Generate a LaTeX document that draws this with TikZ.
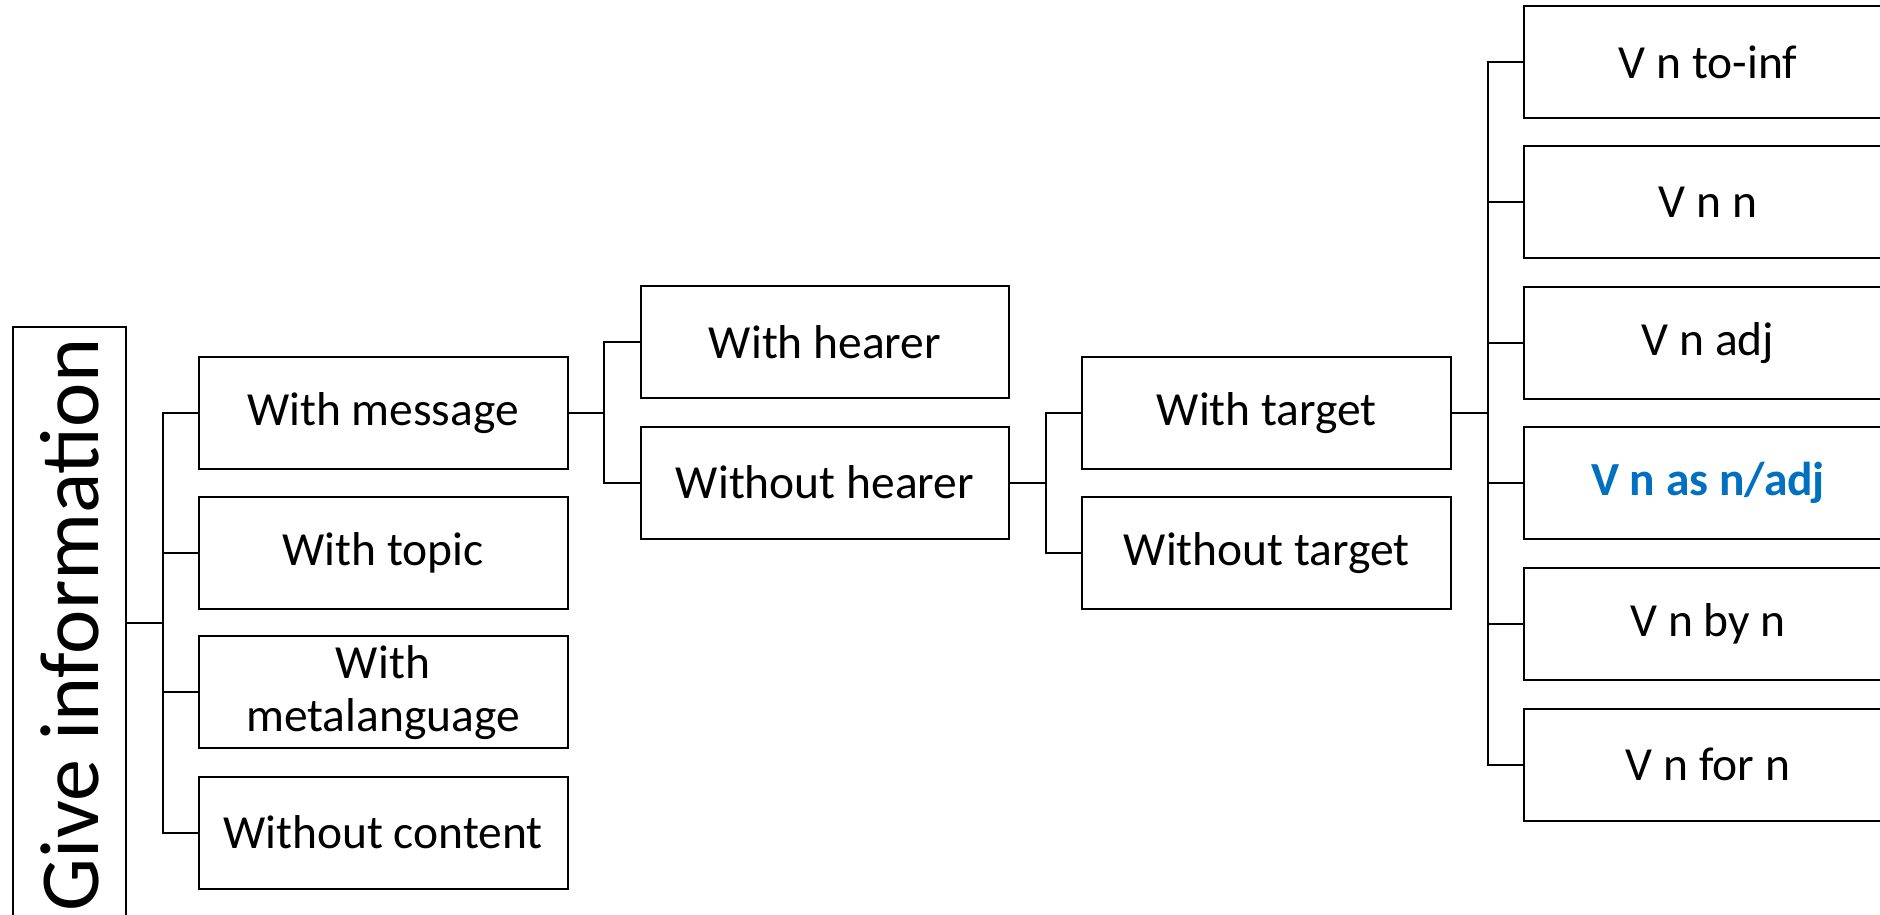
\documentclass[tikz,border=0pt]{standalone}
\usepackage{fontspec}
\setmainfont{Carlito}
\definecolor{hlblue}{HTML}{0070C0}
\begin{document}
\begin{tikzpicture}[x=1pt,y=-1pt,
  box/.style={draw, line width=2pt, minimum width=369pt, minimum height=112pt, inner sep=0pt, align=center, font=\fontsize{47.5}{53}\selectfont},
  conn/.style={line width=2pt, line join=miter}]
\useasboundingbox (0,0) rectangle (1880,915);
\fill[white] (0,0) rectangle (1880,915);
% root
\node[draw, line width=2pt, minimum width=113pt, minimum height=603pt, inner sep=0pt] (give) at (69.5,628.7) {};
\node[rotate=90, inner sep=0pt, font=\fontsize{84}{90}\selectfont] (givetext) at (69.5,625) {Give information};
% level 1
\node[box] (msg) at (383,412.6) {With message};
\node[box] (topic) at (383,552.7) {With topic};
\node[box] (meta) at (383,692.2) {With\\metalanguage};
\node[box] (content) at (383,832.5) {Without content};
% level 2
\node[box, minimum width=368pt] (hearer) at (825,342) {With hearer};
\node[box, minimum width=368pt] (nohearer) at (825,482.5) {Without hearer};
% level 3
\node[box] (target) at (1266.75,413) {With target};
\node[box] (notarget) at (1266.75,553) {Without target};
% level 4
\node[box, minimum width=368pt] (r1) at (1708,62) {V n to-inf};
\node[box, minimum width=368pt] (r2) at (1708,202.3) {V n n};
\node[box, minimum width=368pt] (r3) at (1708,342.7) {V n adj};
\node[box, minimum width=368pt, text=hlblue, font=\fontsize{47.5}{53}\selectfont\bfseries] (r4) at (1708,483.3) {V n as n/adj};
\node[box, minimum width=368pt] (r5) at (1708,624) {V n by n};
\node[box, minimum width=368pt] (r6) at (1708,764.7) {V n for n};
% buses
\coordinate (b1) at (163,622.5);
\coordinate (b2) at (604,412);
\coordinate (b3) at (1046,482.5);
\coordinate (b4) at (1488,413);
\draw[conn] (give.east |- b1) -- (b1);
\draw[conn] (msg.west) -- (msg.west -| b1) -- (content.west -| b1) -- (content.west);
\draw[conn] (topic.west) -- (topic.west -| b1);
\draw[conn] (meta.west) -- (meta.west -| b1);
\draw[conn] (msg.east) -- (msg.east -| b2);
\draw[conn] (hearer.west) -- (hearer.west -| b2) -- (nohearer.west -| b2) -- (nohearer.west);
\draw[conn] (nohearer.east) -- (nohearer.east -| b3);
\draw[conn] (target.west) -- (target.west -| b3) -- (notarget.west -| b3) -- (notarget.west);
\draw[conn] (target.east) -- (target.east -| b4);
\draw[conn] (r1.west) -- (r1.west -| b4) -- (r6.west -| b4) -- (r6.west);
\draw[conn] (r2.west) -- (r2.west -| b4);
\draw[conn] (r3.west) -- (r3.west -| b4);
\draw[conn] (r4.west) -- (r4.west -| b4);
\draw[conn] (r5.west) -- (r5.west -| b4);
\end{tikzpicture}
\end{document}
